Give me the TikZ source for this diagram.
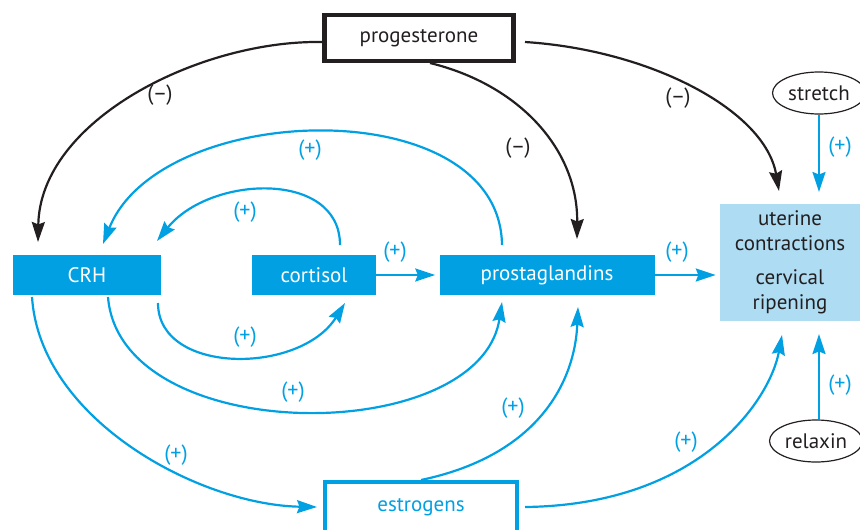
\documentclass[tikz,border=0pt]{standalone}
\usepackage{fontspec}
\setmainfont{PT Sans}
\usetikzlibrary{arrows.meta,shapes.geometric}
\definecolor{cy}{RGB}{0,160,227}
\definecolor{lb}{RGB}{173,220,243}
\definecolor{ink}{RGB}{35,31,32}
\tikzset{
  bigfont/.style={font=\fontsize{21}{24}\selectfont},
  solidbox/.style={fill=cy,text=white,minimum height=40pt,inner sep=0pt,bigfont},
  outbox/.style={draw=ink,line width=4.5pt,fill=white,text=ink,inner sep=0pt,bigfont},
  ell/.style={ellipse,draw=ink,line width=1.2pt,text=ink,minimum width=93pt,minimum height=42pt,inner sep=0pt,bigfont},
  tip/.style={-{Stealth[length=20pt,width=13pt,inset=2.5pt]}},
  blk/.style={draw=ink,line width=2.2pt,tip},
  blu/.style={draw=cy,line width=2.2pt,tip},
  plab/.style={text=cy,font=\fontsize{22}{24}\selectfont},
  mlab/.style={text=ink,font=\fontsize{22}{24}\selectfont},
}
\begin{document}
\begin{tikzpicture}[x=1pt,y=-1pt]
\useasboundingbox (0,0) rectangle (860,530);
% nodes
\node[outbox,minimum width=189pt,minimum height=46pt] (prog) at (419,38) {progesterone};
\node[ell] (stretch) at (819,93) {stretch};
\node[ell] (relaxin) at (816,441) {relaxin};
\node[fill=lb,text=ink,minimum width=140pt,minimum height=117pt,inner sep=0pt,align=center,font=\fontsize{21}{25}\selectfont] (ut) at (790,262) {uterine\\contractions\\[9pt]cervical\\ripening};
\node[solidbox,minimum width=148pt] (crh) at (87,275) {CRH};
\node[solidbox,minimum width=124pt] (cort) at (314,275) {cortisol};
\node[solidbox,minimum width=215pt] (pg) at (547,275) {prostaglandins};
\node[outbox,draw=cy,text=cy,line width=4pt,minimum width=192pt,minimum height=50pt] (est) at (421,507) {estrogens};
% anchors
\coordinate (crhT1) at (38,242);
\coordinate (crhT2) at (103,244);
\coordinate (crhT3) at (157,241);
\coordinate (crhB1) at (32,297);
\coordinate (crhB2) at (108,297);
\coordinate (crhB3) at (158,303);
\coordinate (cortT) at (340,245);
\coordinate (cortB) at (345,303);
\coordinate (pgT1) at (502,245);
\coordinate (pgT2) at (577,239);
\coordinate (pgB1) at (502,302);
\coordinate (pgB2) at (578,307);
\coordinate (utT1) at (779,191);
\coordinate (utB1) at (782,335);
\coordinate (progW) at (322,42);
\coordinate (progB) at (430,63);
\coordinate (progE) at (525,42);
% black arrows
\draw[blk] (progW) .. controls (200,40) and (40,120) .. (crhT1);
\draw[blk] (progB) .. controls (520,85) and (578,150) .. (pgT2);
\draw[blk] (progE) .. controls (650,50) and (765,110) .. (utT1);
\node[mlab] (m1) at (160,95) {(–)};
\node[mlab] (m2) at (518,148) {(–)};
\node[mlab] (m3) at (678,98) {(–)};
% blue straight arrows
\draw[blu] (stretch.south) -- (stretch.south |- 0,192);
\draw[blu] (relaxin.north -| stretch.south) -- (stretch.south |- 0,334);
\draw[blu] (pg.east) -- ([xshift=-4pt]ut.west |- pg.east);
\draw[blu] (cort.east) -- ([xshift=-4pt]pg.west);
\node[plab] (p1) at (840,147) {(+)};
\node[plab] (p2) at (840,385) {(+)};
\node[plab] (p3) at (677,252) {(+)};
\node[plab] (p4) at (395,252) {(+)};
% blue curves
\draw[blu] (pgT1) .. controls (500,90) and (160,100) .. (crhT2);
\draw[blu] (cortT) .. controls (340,170) and (210,175) .. (crhT3);
\draw[blu] (crhB3) .. controls (158,375) and (300,375) .. (cortB);
\draw[blu] (crhB2) .. controls (120,448) and (480,448) .. (pgB1);
\draw[blu] (crhB1) .. controls (40,420) and (200,505) .. ([xshift=-6pt]est.west);
\draw[blu] (est.north) .. controls (540,455) and (575,380) .. (pgB2);
\draw[blu] ([xshift=6pt]est.east) .. controls (700,505) and (770,400) .. (utB1);
\node[plab] (p5) at (310,150) {(+)};
\node[plab] (p6) at (245,212) {(+)};
\node[plab] (p7) at (245,337) {(+)};
\node[plab] (p8) at (293,392) {(+)};
\node[plab] (p9) at (176,455) {(+)};
\node[plab] (p10) at (513,408) {(+)};
\node[plab] (p11) at (686,442) {(+)};
\end{tikzpicture}
\end{document}
